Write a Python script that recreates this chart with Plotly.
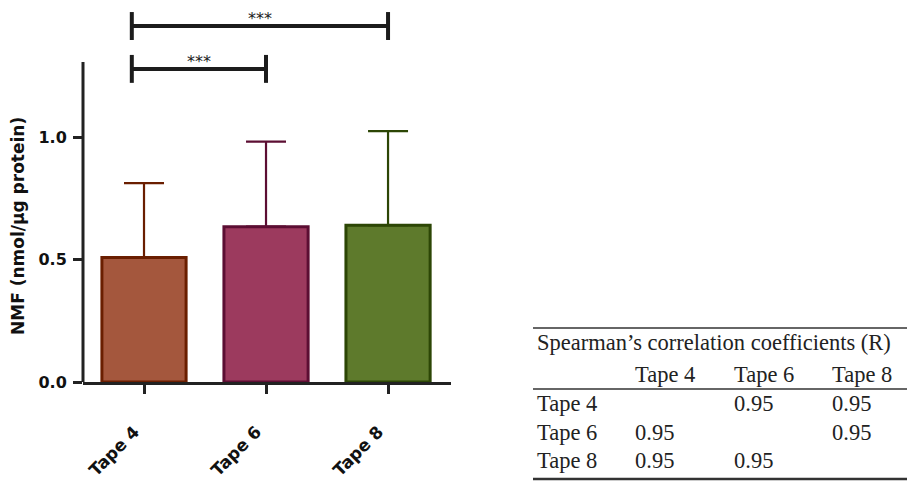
import plotly.graph_objects as go

# ---------------- data ----------------
categories = ["Tape 4", "Tape 6", "Tape 8"]
means = [0.508, 0.634, 0.640]
sd_upper = [0.304, 0.347, 0.384]
fill_colors = ["#A4573D", "#9C3A5E", "#5E7A2C"]
edge_colors = ["#6A1E00", "#5C0E33", "#2C4605"]
y_title = "NMF (nmol/\u00b5g protein)"

# significance brackets: (left position, right category index, y level, label)
sig_left = [-0.1, -0.1]
sig_right = [1, 2]
sig_level = [1.278, 1.453]
sig_label = ["***", "***"]

table_title = "Spearman\u2019s correlation coefficients (R)"
table_cols = ["Tape 4", "Tape 6", "Tape 8"]
table_rows = ["Tape 4", "Tape 6", "Tape 8"]
table_vals = [["", "0.95", "0.95"],
              ["0.95", "", "0.95"],
              ["0.95", "0.95", ""]]

# ---------------- layout geometry ----------------
OFF = 8  # page body margin
W, H = 915 - OFF, 484 - OFF
ML, MR, MT, MB = 75, 464, 0, 102
PW, PH = W - ML - MR, H - MT - MB
YMAX = PH / 245.0


def px(x):
    return (x - OFF - ML) / PW


def py(y):
    return (H - MB - (y - OFF)) / PH


fig = go.Figure()
fig.add_trace(go.Bar(
    x=list(range(len(categories))),
    y=means,
    width=0.69,
    marker=dict(color=fill_colors, line=dict(color=edge_colors, width=3)),
    showlegend=False,
))
for i in range(len(categories)):
    fig.add_trace(go.Scatter(
        x=[i], y=[means[i]], mode="markers",
        marker=dict(size=1, opacity=0),
        error_y=dict(type="data", array=[sd_upper[i]], arrayminus=[0],
                     symmetric=False, color=edge_colors[i], thickness=2.2, width=20),
        showlegend=False, hoverinfo="skip",
    ))

shapes = []
shapes.append(dict(type="line", xref="paper", yref="y", x0=0, x1=0, y0=0, y1=1.306,
                   line=dict(color="#222", width=3)))
dark = "#1c1c1c"
annotations = []
for xl, xr, lvl, lab in zip(sig_left, sig_right, sig_level, sig_label):
    shapes.append(dict(type="line", xref="x", yref="y", x0=xl, x1=xr, y0=lvl, y1=lvl,
                       line=dict(color=dark, width=4)))
    for xe in (xl, xr):
        shapes.append(dict(type="line", xref="x", yref="y", x0=xe, x1=xe,
                           y0=lvl - 0.057, y1=lvl + 0.057, line=dict(color=dark, width=4)))
    annotations.append(dict(x=(xl + xr) / 2, y=lvl, xref="x", yref="y", text=lab,
                            showarrow=False, yanchor="bottom", yshift=-4,
                            font=dict(family="DejaVu Sans", size=16, color=dark)))

axis_font = dict(family="DejaVu Sans", size=16, color="#111", weight="bold")
label_font = dict(family="DejaVu Sans", size=17, color="#111", weight="bold")

# rotated category labels
for i, c in enumerate(categories):
    annotations.append(dict(x=i, y=0, xref="x", yref="y", text=c, textangle=-45,
                            showarrow=False, xanchor="center", yanchor="middle",
                            xshift=-30, yshift=-69, font=label_font))

# y-axis title (centred on the drawn axis line)
annotations.append(dict(x=px(18), y=py(226), xref="paper", yref="paper", text=y_title,
                        textangle=-90, showarrow=False, xanchor="center", yanchor="middle",
                        font=label_font))

# table rules
for yy, lw in ((328, 1.5), (389, 1.5), (479, 2.5)):
    shapes.append(dict(type="line", xref="paper", yref="paper", x0=px(533), x1=px(940),
                       y0=py(yy), y1=py(yy), line=dict(color="#333", width=lw)))

tfont = dict(family="Liberation Serif", size=22.5, color="#222")
col_x = [633, 732, 830]
row_y = [403, 432, 460]
annotations.append(dict(x=px(535), y=py(342), xref="paper", yref="paper", text=table_title,
                        showarrow=False, xanchor="left", yanchor="middle", font=tfont))
for cx, c in zip(col_x, table_cols):
    annotations.append(dict(x=px(cx), y=py(374), xref="paper", yref="paper", text=c,
                            showarrow=False, xanchor="left", yanchor="middle", font=tfont))
for ry, r, vals in zip(row_y, table_rows, table_vals):
    annotations.append(dict(x=px(535), y=py(ry), xref="paper", yref="paper", text=r,
                            showarrow=False, xanchor="left", yanchor="middle", font=tfont))
    for cx, v in zip(col_x, vals):
        if v:
            annotations.append(dict(x=px(cx), y=py(ry), xref="paper", yref="paper", text=v,
                                    showarrow=False, xanchor="left", yanchor="middle", font=tfont))

fig.update_layout(
    width=W, height=H,
    margin=dict(l=ML, r=MR, t=MT, b=MB, autoexpand=False),
    plot_bgcolor="white", paper_bgcolor="white",
    shapes=shapes, annotations=annotations,
    xaxis=dict(
        range=[-0.5, 2.516], tickmode="array", tickvals=list(range(len(categories))),
        showticklabels=False, ticks="outside", ticklen=9, tickwidth=3,
        tickcolor="#222", showline=True, linecolor="#222", linewidth=3,
        showgrid=False, zeroline=False,
    ),
    yaxis=dict(
        range=[0, YMAX], tickvals=[0, 0.5, 1.0], ticktext=["0.0", "0.5", "1.0"],
        ticks="outside", ticklen=9, tickwidth=3, tickcolor="#222",
        showline=False, showgrid=False, zeroline=False, tickfont=axis_font,
        ticklabelstandoff=3,
    ),
)

fig.write_html("out.html")
